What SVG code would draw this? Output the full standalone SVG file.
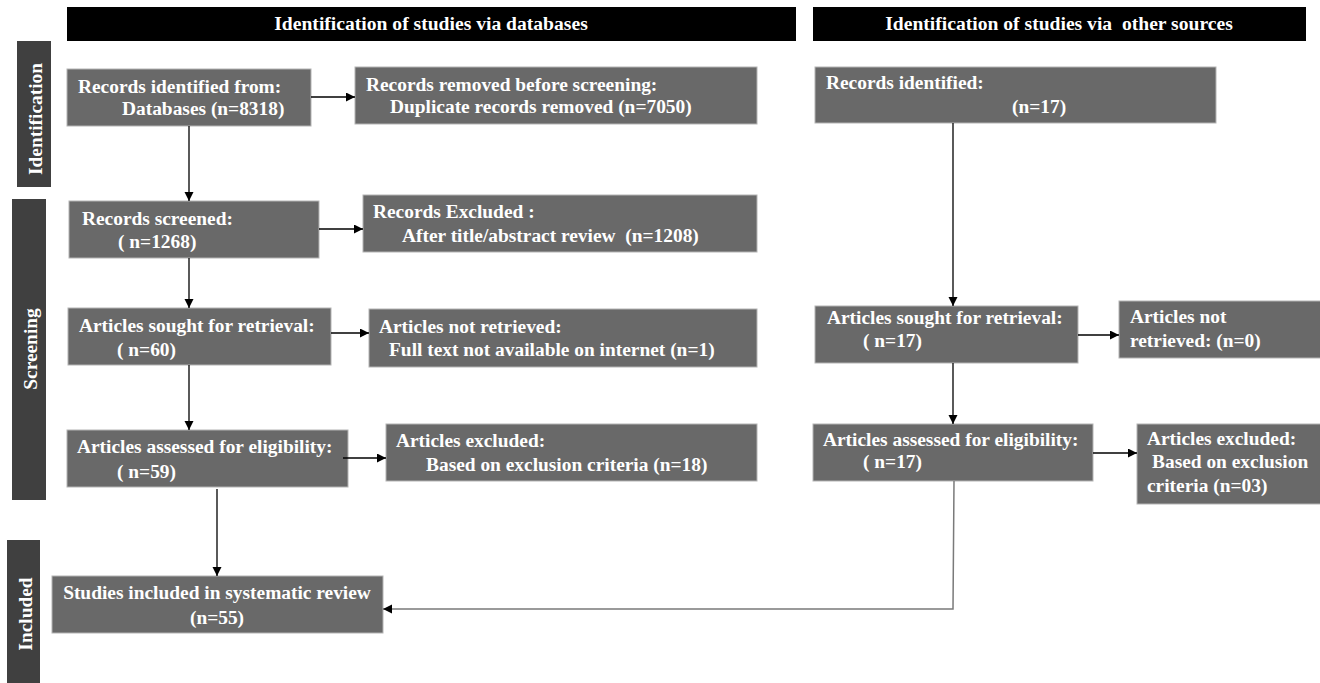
<svg xmlns="http://www.w3.org/2000/svg" width="1320" height="683" viewBox="0 0 1320 683">
<style>
.hdr{fill:#000}
.hdr-t{font-family:"Liberation Serif","Times New Roman",serif;font-weight:bold;font-size:19.6px;fill:#fff;text-anchor:middle}
.box{fill:#696969;stroke:#b4b4b4;stroke-width:1}
.side{fill:#404040}
.t{font-family:"Liberation Serif","Times New Roman",serif;font-weight:bold;font-size:19.4px;fill:#fff}
.side-t{font-family:"Liberation Serif","Times New Roman",serif;font-weight:bold;font-size:19.4px;fill:#fff;text-anchor:middle}
.c{fill:none;stroke:#000;stroke-width:1.3}
.cg{fill:none;stroke:#7a7a7a;stroke-width:1.5}
</style>
<defs>
<marker id="ah" markerUnits="userSpaceOnUse" markerWidth="10" markerHeight="10" refX="9" refY="4.5" orient="auto">
<path d="M0,0 L9,4.5 L0,9 z" fill="#000"/>
</marker>
</defs>
<rect width="1320" height="683" fill="#fff"/>

<g id="header-databases">
<rect class="hdr" x="67" y="7" width="729" height="34"/>
<text class="hdr-t" x="431" y="30">Identification of studies via databases</text>
</g>
<g id="header-other">
<rect class="hdr" x="813" y="7" width="493" height="34"/>
<text class="hdr-t" x="1059" y="30" xml:space="preserve">Identification of studies via  other sources</text>
</g>

<g id="label-identification">
<rect class="side" x="17" y="41" width="34" height="146"/>
<text class="side-t" transform="translate(42,119) rotate(-90)">Identification</text>
</g>
<g id="label-screening">
<rect class="side" x="12" y="199" width="34" height="301"/>
<text class="side-t" transform="translate(37,349) rotate(-90)">Screening</text>
</g>
<g id="label-included">
<rect class="side" x="7" y="540" width="33" height="143"/>
<text class="side-t" transform="translate(32,614) rotate(-90)">Included</text>
</g>

<g id="db-identified">
<rect class="box" x="67" y="69" width="244" height="57"/>
<text class="t" x="78" y="93">Records identified from:</text>
<text class="t" x="122" y="115">Databases (n=8318)</text>
</g>
<g id="db-removed">
<rect class="box" x="355" y="67" width="402" height="57"/>
<text class="t" x="366" y="91">Records removed before screening:</text>
<text class="t" x="390" y="113">Duplicate records removed (n=7050)</text>
</g>
<g id="db-screened">
<rect class="box" x="69" y="201" width="250" height="57"/>
<text class="t" x="82" y="225">Records screened:</text>
<text class="t" x="118" y="248">( n=1268)</text>
</g>
<g id="db-excluded">
<rect class="box" x="363" y="195" width="394" height="57"/>
<text class="t" x="373" y="218">Records Excluded :</text>
<text class="t" x="402" y="242" xml:space="preserve">After title/abstract review  (n=1208)</text>
</g>
<g id="db-sought">
<rect class="box" x="68" y="308" width="263" height="57"/>
<text class="t" x="79" y="332">Articles sought for retrieval:</text>
<text class="t" x="117" y="356">( n=60)</text>
</g>
<g id="db-not-retrieved">
<rect class="box" x="369" y="309" width="388" height="58"/>
<text class="t" x="379" y="333">Articles not retrieved:</text>
<text class="t" x="389" y="356">Full text not available on internet (n=1)</text>
</g>
<g id="db-assessed">
<rect class="box" x="67" y="430" width="281" height="57"/>
<text class="t" x="77" y="453">Articles assessed for eligibility:</text>
<text class="t" x="117" y="478">( n=59)</text>
</g>
<g id="db-articles-excluded">
<rect class="box" x="386" y="424" width="371" height="57"/>
<text class="t" x="396" y="447">Articles excluded:</text>
<text class="t" x="426" y="471">Based on exclusion criteria (n=18)</text>
</g>
<g id="included">
<rect class="box" x="52" y="576" width="331" height="57"/>
<text class="t" x="217" y="599" text-anchor="middle">Studies included in systematic review</text>
<text class="t" x="217" y="624" text-anchor="middle">(n=55)</text>
</g>

<g id="other-identified">
<rect class="box" x="815" y="67" width="401" height="56"/>
<text class="t" x="826" y="89">Records identified:</text>
<text class="t" x="1012" y="113">(n=17)</text>
</g>
<g id="other-sought">
<rect class="box" x="815" y="306" width="263" height="57"/>
<text class="t" x="827" y="324">Articles sought for retrieval:</text>
<text class="t" x="863" y="347">( n=17)</text>
</g>
<g id="other-not-retrieved">
<rect class="box" x="1119" y="301" width="205" height="57"/>
<text class="t" x="1130" y="323">Articles not</text>
<text class="t" x="1130" y="347">retrieved: (n=0)</text>
</g>
<g id="other-assessed">
<rect class="box" x="813" y="424" width="280" height="57"/>
<text class="t" x="823" y="446">Articles assessed for eligibility:</text>
<text class="t" x="863" y="468">( n=17)</text>
</g>
<g id="other-excluded">
<rect class="box" x="1137" y="424" width="187" height="80"/>
<text class="t" x="1147" y="445">Articles excluded:</text>
<text class="t" x="1152" y="468">Based on exclusion</text>
<text class="t" x="1147" y="492">criteria (n=03)</text>
</g>

<g id="connectors">
<line class="c" x1="311" y1="97" x2="355" y2="97" marker-end="url(#ah)"/>
<line class="c" x1="189" y1="126" x2="189" y2="201" marker-end="url(#ah)"/>
<line class="c" x1="319" y1="229" x2="363" y2="229" marker-end="url(#ah)"/>
<line class="c" x1="189" y1="258" x2="189" y2="308" marker-end="url(#ah)"/>
<line class="c" x1="331" y1="333" x2="369" y2="333" marker-end="url(#ah)"/>
<line class="c" x1="189" y1="365" x2="189" y2="430" marker-end="url(#ah)"/>
<line class="c" x1="343" y1="458" x2="386" y2="458" marker-end="url(#ah)"/>
<line class="c" x1="217" y1="489" x2="217" y2="576" marker-end="url(#ah)"/>
<line class="c" x1="953" y1="123" x2="953" y2="306" marker-end="url(#ah)"/>
<line class="c" x1="1078" y1="335" x2="1119" y2="335" marker-end="url(#ah)"/>
<line class="c" x1="953" y1="363" x2="953" y2="424" marker-end="url(#ah)"/>
<line class="c" x1="1093" y1="453" x2="1137" y2="453" marker-end="url(#ah)"/>
<polyline class="cg" points="954,481 953,609 383,609" marker-end="url(#ah)"/>
</g>
</svg>
